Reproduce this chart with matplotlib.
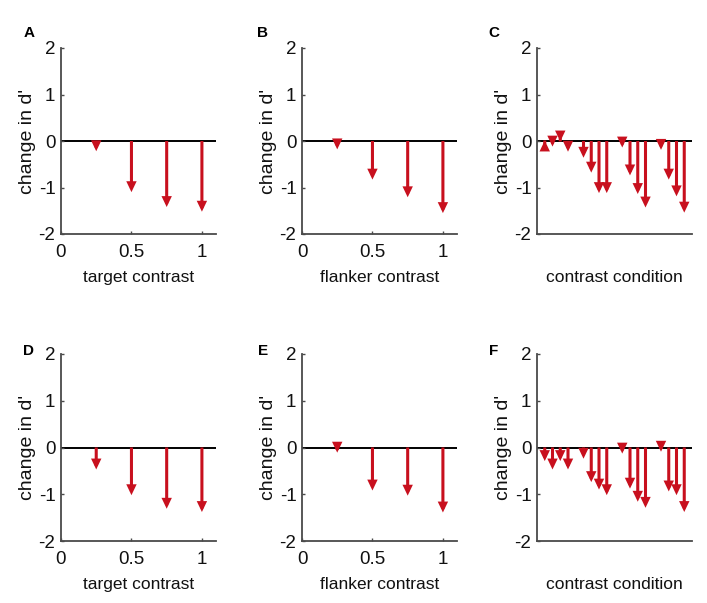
import matplotlib
matplotlib.use("Agg")
import matplotlib.pyplot as plt
import numpy as np

plt.rcParams['font.family'] = ['Liberation Sans', 'DejaVu Sans']
plt.rcParams['axes.unicode_minus'] = False

# ---- data ----
contrast_levels = [0.25, 0.5, 0.75, 1.0]
contrast_ticks = [0, 0.5, 1]
contrast_ticklabels = ['0', '0.5', '1']
y_ticks = [-2, -1, 0, 1, 2]
y_ticklabels = ['-2', '-1', '0', '1', '2']

# condition positions: 4 groups of 4, gap between groups
condition_positions = [1, 2, 3, 4, 6, 7, 8, 9, 11, 12, 13, 14, 16, 17, 18, 19]

A_target = [-0.22, -1.10, -1.42, -1.52]
B_flanker = [-0.18, -0.83, -1.21, -1.55]
C_condition = [0.01, -0.12, -0.01, -0.23, -0.36, -0.68, -1.12, -1.12,
               -0.14, -0.74, -1.14, -1.43, -0.19, -0.83, -1.19, -1.54]
D_target = [-0.47, -1.02, -1.31, -1.38]
E_flanker = [-0.11, -0.92, -1.03, -1.39]
F_condition = [-0.29, -0.47, -0.29, -0.47, -0.24, -0.74, -0.90, -1.02,
               -0.13, -0.88, -1.16, -1.29, -0.09, -0.94, -1.02, -1.38]

panel_letters = ['A', 'B', 'C', 'D', 'E', 'F']
xlabels = ['target contrast', 'flanker contrast', 'contrast condition',
           'target contrast', 'flanker contrast', 'contrast condition']
ylabel = "change in d'"

RED = '#c8101e'
SPINE = '#4a4a4a'

W, H = 707, 603
fig = plt.figure(figsize=(W / 100, H / 100), dpi=100)

lefts = [61, 302, 537]
rows = [(48, 234), (354, 541)]
width_px = 155

datasets = [
    (contrast_levels, A_target, 'cont'),
    (contrast_levels, B_flanker, 'cont'),
    (condition_positions, C_condition, 'cond'),
    (contrast_levels, D_target, 'cont'),
    (contrast_levels, E_flanker, 'cont'),
    (condition_positions, F_condition, 'cond'),
]

letter_pos = [(29, 33), (263, 33), (494, 33), (29, 351), (263, 351), (494, 351)]

for i, (xs, vals, kind) in enumerate(datasets):
    r, c = divmod(i, 3)
    top, bot = rows[r]
    ax = fig.add_axes([lefts[c] / W, 1 - bot / H, width_px / W, (bot - top) / H])
    ax.set_ylim(-2, 2)
    if kind == 'cont':
        ax.set_xlim(0, 1.1)
        ax.set_xticks(contrast_ticks)
        ax.set_xticklabels(contrast_ticklabels)
    else:
        ax.set_xlim(0, 20)
        ax.set_xticks([])
    ax.set_yticks(y_ticks)
    ax.set_yticklabels(y_ticklabels)
    for s in ['top', 'right']:
        ax.spines[s].set_visible(False)
    for s in ['left', 'bottom']:
        ax.spines[s].set_color(SPINE)
        ax.spines[s].set_linewidth(1.3)
    ax.tick_params(axis='both', direction='in', length=2.5, width=1.0,
                   color=SPINE, labelsize=13.5, labelcolor='#111111')
    ax.tick_params(axis='x', pad=7)
    ax.tick_params(axis='y', pad=4)
    ax.axhline(0, color='black', lw=1.4, zorder=1)
    for x, v in zip(xs, vals):
        ax.annotate('', xy=(x, v), xytext=(x, 0),
                    arrowprops=dict(arrowstyle='-|>,head_length=0.42,head_width=0.2',
                                    color=RED, lw=2.2, shrinkA=0, shrinkB=0,
                                    joinstyle='miter', capstyle='butt'),
                    zorder=3, annotation_clip=False)
    ax.set_ylabel(ylabel, fontsize=14, color='#111111')
    ax.yaxis.set_label_coords(-0.16, 0.5)
    ax.set_xlabel(xlabels[i], fontsize=12.5, color='#111111')
    ax.xaxis.set_label_coords(0.5, -0.195)
    lx, ly = letter_pos[i]
    fig.text(lx / W, 1 - ly / H, panel_letters[i], fontsize=11,
             fontweight='bold', ha='center', va='center')

fig.savefig('out.png', dpi=100)
